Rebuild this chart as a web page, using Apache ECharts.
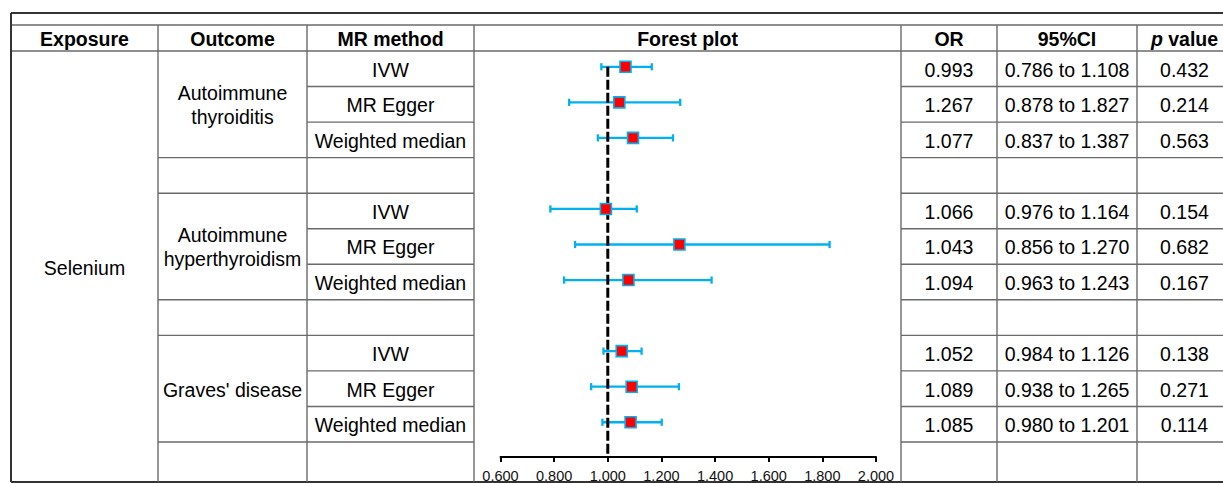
<!DOCTYPE html>
<html><head><meta charset="utf-8">
<script src="https://cdn.jsdelivr.net/npm/echarts@6/dist/echarts.min.js"></script>
<style>html,body{margin:0;padding:0;background:#fff}#c{width:1223px;height:483px}</style>
</head><body><div id="c"></div>
<script>
// ---------- data ----------
const exposure = 'Selenium';
const outcomes = ['Autoimmune\nthyroiditis', 'Autoimmune\nhyperthyroidism', "Graves' disease"];
const methods = ['IVW', 'MR Egger', 'Weighted median'];
const headers = ['Exposure', 'Outcome', 'MR method', 'Forest plot', 'OR', '95%CI', '{i|p} value'];
const orText = ['0.993', '1.267', '1.077', '1.066', '1.043', '1.094', '1.052', '1.089', '1.085'];
const ciText = ['0.786 to 1.108', '0.878 to 1.827', '0.837 to 1.387', '0.976 to 1.164', '0.856 to 1.270', '0.963 to 1.243', '0.984 to 1.126', '0.938 to 1.265', '0.980 to 1.201'];
const pText = ['0.432', '0.214', '0.563', '0.154', '0.682', '0.167', '0.138', '0.271', '0.114'];
// values as drawn in the forest plot
const plotOR   = [1.066, 1.043, 1.094, 0.993, 1.267, 1.077, 1.052, 1.089, 1.085];
const plotLow  = [0.976, 0.856, 0.963, 0.786, 0.878, 0.837, 0.984, 0.938, 0.980];
const plotHigh = [1.164, 1.270, 1.243, 1.108, 1.827, 1.387, 1.126, 1.265, 1.201];
const xMin = 0.6, xMax = 2.0, xStep = 0.2, refValue = 1;

// ---------- layout ----------
const FONT = '"Liberation Sans", Arial, sans-serif';
const FS = 19.5;
const colX = [11, 158, 307, 474, 901, 997, 1137, 1232];
const yOuter = 13, yHead = 25, yBody = 51, R = 35.545, nRows = 12, yBottom = 482;
const rightEdge = 1223;
const axisY = 457;
const firstBarY = yBody + 0.444 * R;
const BLUE = '#00B0F0', RED = '#FF0000';
const rowOf = j => Math.floor(j / 3) * 4 + (j % 3);
const rowLineY = k => yBody + k * R;
const rowCenter = r => yBody + (r + 0.5) * R + 1;
const colCenter = c => (colX[c] + colX[c + 1]) / 2;

const els = [];
const grey = { stroke: '#6a6a6a', lineWidth: 1.4 };
const dark = { stroke: '#333', lineWidth: 2 };
function hline(y, x1, x2, st) { els.push({ type: 'line', silent: true, shape: { x1, y1: y, x2, y2: y }, style: st }); }
function vline(x, y1, y2, st) { els.push({ type: 'line', silent: true, shape: { x1: x, y1, x2: x, y2 }, style: st }); }
function text(t, x, y, extra) {
  els.push({ type: 'text', silent: true, style: Object.assign({
    text: t, x, y, align: 'center', verticalAlign: 'middle',
    fontFamily: FONT, fontSize: FS, fill: '#000'
  }, extra || {}) });
}
// horizontal lines
hline(yOuter, colX[0], rightEdge, dark);
hline(yHead, colX[0], rightEdge, grey);
hline(yBody, colX[0], rightEdge, grey);
for (let k = 1; k < nRows; k++) {
  const y = rowLineY(k);
  if (k % 4 === 3 || k % 4 === 0) hline(y, colX[1], colX[2], grey);
  hline(y, colX[2], colX[3], grey);
  hline(y, colX[4], rightEdge, grey);
}
hline(yBottom, colX[0], rightEdge, dark);
// vertical lines
vline(colX[0], yOuter, yBottom, dark);
for (let c = 1; c < colX.length - 1; c++) vline(colX[c], yHead, yBottom, grey);

// header texts
headers.forEach((h, c) => {
  text(h, colCenter(c), (yHead + yBody) / 2 + 1, {
    fontWeight: 'bold',
    rich: { i: { fontStyle: 'italic', fontWeight: 'bold', fontFamily: FONT, fontSize: FS, fill: '#000' } }
  });
});
// exposure
text(exposure, colCenter(0), (yBody + yBottom) / 2 + 1);
// outcomes
outcomes.forEach((o, g) => text(o, colCenter(1), yBody + (g * 4 + 1.5) * R + 1, { lineHeight: 24 }));
// rows
orText.forEach((v, j) => {
  const r = rowOf(j);
  text(methods[j % 3], colCenter(2), rowCenter(r));
  text(v, colCenter(4), rowCenter(r));
  text(ciText[j], colCenter(5), rowCenter(r));
  text(pText[j], colCenter(6), rowCenter(r));
});

const barData = plotOR.map((v, j) => [plotLow[j], plotHigh[j], rowOf(j)]);
const ptData = plotOR.map((v, j) => [v, rowOf(j)]);
const yMaxVal = (axisY - firstBarY) / R;

const chart = echarts.init(document.getElementById('c'), null, { renderer: 'svg' });
chart.setOption({
  animation: false,
  backgroundColor: '#fff',
  graphic: { elements: els },
  grid: { left: 500.5, width: 375.5, top: firstBarY, height: axisY - firstBarY, containLabel: false },
  xAxis: {
    type: 'value', min: xMin, max: xMax, interval: xStep,
    axisLine: { show: true, onZero: false, lineStyle: { color: '#000', width: 2 } },
    axisTick: { show: true, length: 5, lineStyle: { color: '#000', width: 2 } },
    splitLine: { show: false },
    axisLabel: { formatter: v => v.toFixed(3), fontSize: 14.5, fontFamily: FONT, color: '#111', margin: 11, showMinLabel: true, showMaxLabel: true }
  },
  yAxis: { type: 'value', inverse: true, min: 0, max: yMaxVal, show: false },
  series: [
    {
      type: 'custom', z: 2, silent: true,
      data: barData,
      encode: { x: [0, 1], y: 2 },
      renderItem(params, api) {
        const lo = api.coord([api.value(0), api.value(2)]);
        const hi = api.coord([api.value(1), api.value(2)]);
        const c = 3.6;
        const st = { stroke: BLUE, lineWidth: 2.3 };
        return { type: 'group', children: [
          { type: 'line', shape: { x1: lo[0], y1: lo[1], x2: hi[0], y2: hi[1] }, style: st },
          { type: 'line', shape: { x1: lo[0], y1: lo[1] - c, x2: lo[0], y2: lo[1] + c }, style: st },
          { type: 'line', shape: { x1: hi[0], y1: hi[1] - c, x2: hi[0], y2: hi[1] + c }, style: st }
        ] };
      }
    },
    {
      type: 'line', z: 3, silent: true, symbol: 'none',
      data: [[refValue, 0], [refValue, yMaxVal]],
      lineStyle: { color: '#000', width: 3, type: [10, 3] }
    },
    {
      type: 'scatter', z: 4, silent: true,
      data: ptData, symbol: 'rect', symbolSize: 11,
      itemStyle: { color: RED, borderColor: BLUE, borderWidth: 1.6, opacity: 1 }
    }
  ]
});
</script></body></html>
